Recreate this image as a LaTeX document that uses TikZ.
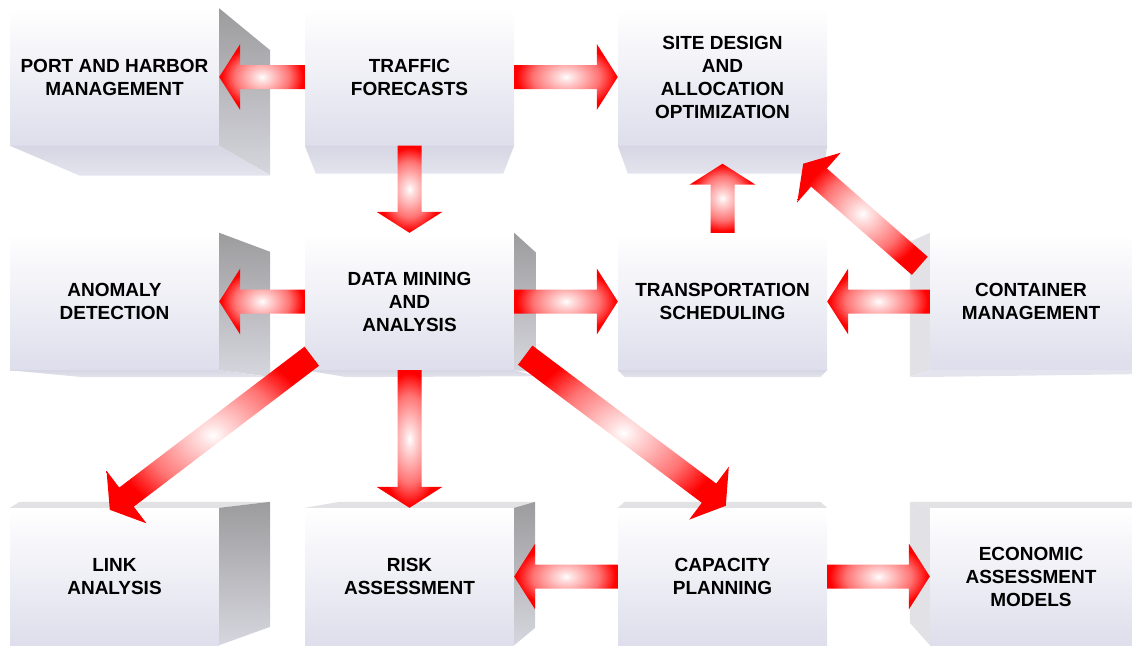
\documentclass[tikz,border=0pt]{standalone}
\usepackage{fontspec}
\setmainfont{Liberation Sans}
\usetikzlibrary{calc}

\definecolor{facelow}{RGB}{222,222,236}
\definecolor{sidedark}{RGB}{156,156,158}
\definecolor{sidelight}{RGB}{214,214,222}
\definecolor{underface}{RGB}{214,214,228}
\definecolor{underlight}{RGB}{228,228,238}
\definecolor{lidface}{RGB}{226,226,228}
\definecolor{paleside}{RGB}{226,226,230}

\pgfdeclareradialshading{flowshade}{\pgfpoint{0bp}{0bp}}{color(0bp)=(white); color(3bp)=(red!12); color(16bp)=(red!55); color(24bp)=(red); color(50bp)=(red)}

\tikzset{
  box/.style={rectangle,inner sep=0pt,minimum width=209pt,minimum height=137pt,
    top color=white,bottom color=facelow,align=center,
    font=\fontsize{19}{23}\selectfont\bfseries},
  narrowbox/.style={box,minimum width=202pt},
  darkside/.style={top color=sidedark,bottom color=sidelight},
  paleside/.style={fill=paleside},
  underside/.style={top color=underface,bottom color=underlight},
  lidside/.style={fill=lidface},
  flowfill/.style={shading=flowshade}
}

\newcommand{\flowarrow}[2]{%
  \shade[flowfill] let \p1=#1, \p2=#2, \n1={atan2(\y2-\y1,\x2-\x1)} in
    ($(\p1)+(\n1+90:12pt)$) -- ($(\p2)+(\n1+180:21pt)+(\n1+90:12pt)$)
    -- ($(\p2)+(\n1+180:21pt)+(\n1+90:33pt)$) -- (\p2)
    -- ($(\p2)+(\n1+180:21pt)+(\n1-90:33pt)$) -- ($(\p2)+(\n1+180:21pt)+(\n1-90:12pt)$)
    -- ($(\p1)+(\n1-90:12pt)$) -- cycle;}

\begin{document}
\begin{tikzpicture}[x=1pt,y=-1pt]
  \useasboundingbox (0,0) rectangle (1132,645);

  \node[box] (port) at (114.5,77) {PORT AND HARBOR\\MANAGEMENT};
  \node[box] (traffic) at (409.5,77) {TRAFFIC\\FORECASTS};
  \node[box] (site) at (722.5,77) {SITE DESIGN\\AND\\ALLOCATION\\OPTIMIZATION};
  \node[box] (anomaly) at (114.5,301.5) {ANOMALY\\DETECTION};
  \node[box] (data) at (409.5,301.5) {DATA MINING\\AND\\ANALYSIS};
  \node[box] (transport) at (722.5,301.5) {TRANSPORTATION\\SCHEDULING};
  \node[narrowbox] (container) at (1031,301.5) {CONTAINER\\MANAGEMENT};
  \node[box] (link) at (114.5,576.5) {LINK\\ANALYSIS};
  \node[box] (risk) at (409.5,576.5) {RISK\\ASSESSMENT};
  \node[box] (capacity) at (722.5,576.5) {CAPACITY\\PLANNING};
  \node[narrowbox] (economic) at (1031,576.5) {ECONOMIC\\ASSESSMENT\\MODELS};

  \shade[underside] (port.south west) -- ++(70,30) -- ($(port.south east)+(51,30)$) -- (port.south east) -- cycle;
  \shade[darkside] (port.north east) -- ++(51,42) -- ++(0,125) -- (port.south east) -- cycle;
  \shade[underside] (traffic.south west) -- ++(11,28) -- ($(traffic.south east)+(-11,28)$) -- (traffic.south east) -- cycle;
  \shade[underside] (site.south west) -- ++(10,28) -- ($(site.south east)+(-4,28)$) -- (site.south east) -- cycle;

  \shade[underside] (anomaly.south west) -- ++(73,7) -- ($(anomaly.south east)+(51,7)$) -- (anomaly.south east) -- cycle;
  \shade[darkside] (anomaly.north east) -- ++(51,19) -- ++(0,125) -- (anomaly.south east) -- cycle;
  \shade[underside] (data.south west) -- ++(42,7) -- ($(data.south east)+(22,6)$) -- (data.south east) -- cycle;
  \shade[darkside] (data.north east) -- ++(22,20) -- ++(0,120) -- (data.south east) -- cycle;
  \shade[underside] (transport.south west) -- ++(7,7) -- ($(transport.south east)+(-7,7)$) -- (transport.south east) -- cycle;
  \fill[underlight] ($(container.south west)+(-20,7)$) -- (container.south west) -- (container.south east) -- ++(0,4) -- cycle;
  \fill[paleside] (container.north west) -- ++(-20,9) -- ++(0,135) -- (container.south west) -- cycle;

  \fill[lidside] (link.north west) -- ++(10,-6) -- ($(link.north east)+(51,-6)$) -- (link.north east) -- cycle;
  \shade[darkside] (link.north east) -- ++(51,-6) -- ++(0,125) -- (link.south east) -- cycle;
  \fill[lidside] (risk.north west) -- ++(35,-6) -- ($(risk.north east)+(21,-6)$) -- (risk.north east) -- cycle;
  \shade[darkside] (risk.north east) -- ++(21,-6) -- ++(0,126) -- (risk.south east) -- cycle;
  \fill[lidside] (capacity.north west) -- ++(7,-6) -- ($(capacity.north east)+(-7,-6)$) -- (capacity.north east) -- cycle;
  \fill[lidside] ($(economic.north west)+(-20,-6)$) -- ($(economic.north east)+(0,-6)$) -- (economic.north east) -- (economic.north west) -- cycle;
  \fill[paleside] (economic.north west) -- ++(-20,-6) -- ++(0,121) -- (economic.south west) -- cycle;

  \flowarrow{(traffic.west)}{(port.east)}
  \flowarrow{(traffic.east)}{(site.west)}
  \flowarrow{(traffic.south)}{(data.north)}
  \flowarrow{(data.west)}{(anomaly.east)}
  \flowarrow{(data.east)}{(transport.west)}
  \flowarrow{(transport.north)}{($(site.south)+(0,18)$)}
  \flowarrow{($(container.north west)+(-10,33)$)}{($(site.south east)+(-24,18)$)}
  \flowarrow{(container.west)}{(transport.east)}
  \flowarrow{($(data.south west)+(7,-14)$)}{($(link.north west)+(100,2)$)}
  \flowarrow{(data.south)}{(risk.north)}
  \flowarrow{($(data.south east)+(11,-15)$)}{($(capacity.north west)+(108,-2)$)}
  \flowarrow{(capacity.west)}{(risk.east)}
  \flowarrow{(capacity.east)}{(economic.west)}
\end{tikzpicture}
\end{document}
